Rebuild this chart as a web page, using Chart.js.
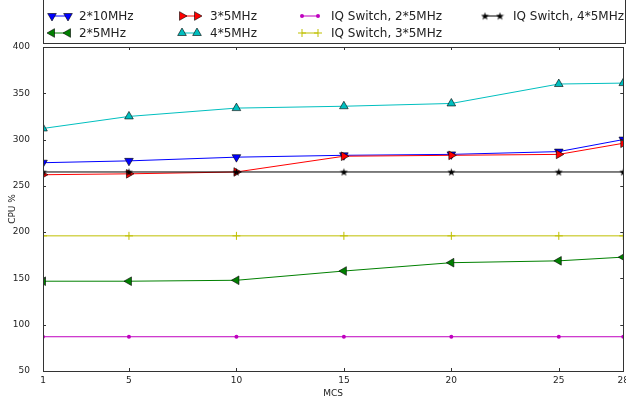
<!DOCTYPE html>
<html>
<head>
<meta charset="utf-8">
<script src="https://cdn.jsdelivr.net/npm/chart.js@4.4.0/dist/chart.umd.min.js"></script>
<style>
  html, body { margin: 0; background: #fff; overflow: hidden; }
  canvas { display: block; }
</style>
</head>
<body>
<!-- el lienzo es un poco mas ancho que la ventana para que el "28" quede cortado como en el original -->
<canvas id="cpuChart" width="629" height="399"></canvas>
<script>
// datos
const mcs = [1, 5, 10, 15, 20, 25, 28];
const xTicks = [1, 5, 10, 15, 20, 25, 28];
const cpu2x10 = [275, 277, 281, 283, 284, 287, 300];
const cpu2x5 = [147, 147, 148, 158, 167, 169, 173];
const cpu3x5 = [262, 263, 265, 282, 283, 284, 296];
const cpu4x5 = [312, 325, 334, 336, 339, 360, 361];
const iqSwitch2x5 = [87, 87, 87, 87, 87, 87, 87];
const iqSwitch3x5 = [196, 196, 196, 196, 196, 196, 196];
const iqSwitch4x5 = [265, 265, 265, 265, 265, 265, 265];

const FONT = 'DejaVu Sans';

// marcador estrella relleno (Chart.js no tiene uno)
const starMarker = document.createElement('canvas');
starMarker.width = 9;
starMarker.height = 9;
const sctx = starMarker.getContext('2d');
sctx.beginPath();
for (let i = 0; i < 10; i++) {
	const r = i % 2 === 0 ? 4.2 : 1.7;
	const a = -Math.PI / 2 + i * Math.PI / 5;
	const px = 4.5 + Math.cos(a) * r;
	const py = 4.9 + Math.sin(a) * r;
	i === 0 ? sctx.moveTo(px, py) : sctx.lineTo(px, py);
}
sctx.closePath();
sctx.fillStyle = '#000';
sctx.fill();

function serie(label, values, color, extra){
	return Object.assign({
		label: label,
		data: mcs.map((x, i) => ({ x: x, y: values[i] })),
		borderColor: color,
		backgroundColor: color,
		borderWidth: 1,
		pointRadius: 5,
		pointBackgroundColor: color,
		pointBorderColor: '#000',
		pointBorderWidth: 0.6,
		pointStyle: 'triangle',
		pointRotation: 0,
		tension: 0,
		fill: false,
		clip: 0
	}, extra);
}

const datasets = [
	serie('2*10MHz', cpu2x10, '#0000ff', { pointRotation: 180 }),
	serie('2*5MHz', cpu2x5, '#008000', { pointRotation: 270 }),
	serie('3*5MHz', cpu3x5, '#ff0000', { pointRotation: 90 }),
	serie('4*5MHz', cpu4x5, '#00bfbf', { pointRotation: 0 }),
	serie('IQ Switch, 2*5MHz', iqSwitch2x5, '#bf00bf', { pointStyle: 'circle', pointRadius: 2, pointBorderColor: '#bf00bf', pointBorderWidth: 0 }),
	serie('IQ Switch, 3*5MHz', iqSwitch3x5, '#bfbf00', { pointStyle: 'cross', pointRadius: 4, pointBorderColor: '#bfbf00', pointBorderWidth: 1 }),
	serie('IQ Switch, 4*5MHz', iqSwitch4x5, '#000000', { pointStyle: starMarker, pointBorderWidth: 0 })
];
// las ultimas series van encima, como en el original
datasets.forEach((d, i) => { d.order = datasets.length - i; });

// marco, ticks interiores y leyenda
const legendCols = [[52, 68, 79], [182, 197, 210], [302, 318, 331], [485, 500, 513]];
const legendRows = [16, 33];

const framePlugin = {
	id: 'frame',
	afterDraw(chart){
		const ctx = chart.ctx;
		const a = chart.chartArea;
		const xs = chart.scales.x;
		const ys = chart.scales.y;
		ctx.save();
		ctx.strokeStyle = '#333';
		ctx.lineWidth = 1;
		ctx.strokeRect(Math.round(a.left) + 0.5, Math.round(a.top) + 0.5, Math.round(a.right - a.left), Math.round(a.bottom - a.top));
		ctx.beginPath();
		xTicks.forEach(t => {
			const px = Math.round(xs.getPixelForValue(t)) + 0.5;
			ctx.moveTo(px, a.top); ctx.lineTo(px, a.top + 3);
			ctx.moveTo(px, a.bottom); ctx.lineTo(px, a.bottom - 3);
		});
		ys.ticks.forEach(t => {
			const py = Math.round(ys.getPixelForValue(t.value)) + 0.5;
			ctx.moveTo(a.left, py); ctx.lineTo(a.left + 3, py);
			ctx.moveTo(a.right, py); ctx.lineTo(a.right - 3, py);
		});
		ctx.stroke();

		// leyenda
		ctx.strokeRect(43.5, -5.5, 582, 49);
		ctx.font = '12px "' + FONT + '"';
		ctx.textBaseline = 'middle';
		ctx.textAlign = 'left';
		chart.data.datasets.forEach((d, i) => {
			const col = legendCols[Math.floor(i / 2)];
			const y = legendRows[i % 2];
			ctx.strokeStyle = d.borderColor;
			ctx.lineWidth = 1;
			ctx.beginPath();
			ctx.moveTo(col[0], y); ctx.lineTo(col[1], y);
			ctx.stroke();
			[col[0], col[1]].forEach(px => {
				ctx.fillStyle = d.pointBackgroundColor;
				ctx.strokeStyle = d.pointBorderColor;
				ctx.lineWidth = d.pointBorderWidth;
				Chart.helpers.drawPoint(ctx, {
					pointStyle: d.pointStyle,
					rotation: d.pointRotation,
					radius: d.pointRadius,
					borderWidth: d.pointBorderWidth
				}, px, y);
			});
			ctx.fillStyle = '#222';
			ctx.fillText(d.label, col[2], y + 0.5);
		});
		ctx.restore();
	}
};

new Chart(document.getElementById('cpuChart'), {
	type: 'line',
	data: { datasets: datasets },
	options: {
		responsive: false,
		animation: false,
		devicePixelRatio: 1,
		events: [],
		layout: { padding: { top: 47, right: 0, left: 0, bottom: 0 } },
		plugins: { legend: { display: false }, tooltip: { enabled: false } },
		scales: {
			x: {
				type: 'linear',
				min: 1,
				max: 28,
				// ticks invisibles: solo separan las etiquetas del eje
				grid: { display: true, drawOnChartArea: false, drawTicks: true, tickLength: 4, color: 'rgba(0,0,0,0)' },
				border: { display: false },
				afterBuildTicks: (scale) => { scale.ticks = xTicks.map(v => ({ value: v })); },
				afterFit: (scale) => { scale.height = 28; },
				ticks: { padding: 0, color: '#222', font: { family: FONT, size: 9 }, maxRotation: 0, autoSkip: false },
				title: { display: true, text: 'MCS', color: '#222', font: { family: FONT, size: 9 }, padding: { top: 0, bottom: 0 } }
			},
			y: {
				min: 50,
				max: 400,
				grid: { display: false },
				border: { display: false },
				afterFit: (scale) => { scale.width = 43; },
				ticks: { stepSize: 50, padding: 5, color: '#222', font: { family: FONT, size: 9 } },
				title: { display: true, text: 'CPU %', color: '#222', font: { family: FONT, size: 9 }, padding: { top: 7, bottom: 0 } }
			}
		}
	},
	plugins: [framePlugin]
});
</script>
</body>
</html>
